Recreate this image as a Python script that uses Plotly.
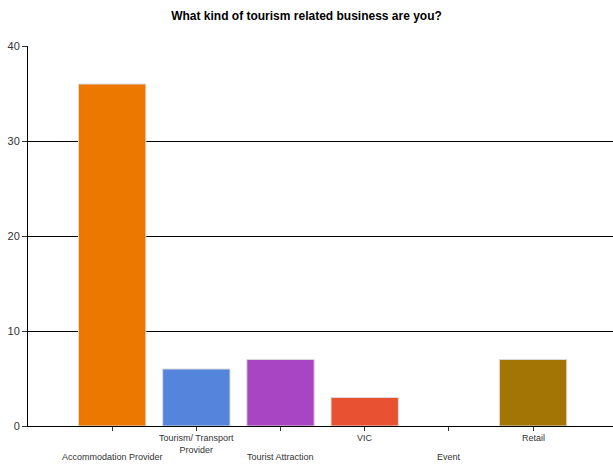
import plotly.graph_objects as go

categories = ["Accommodation Provider", "Tourism/ Transport Provider", "Tourist Attraction",
              "VIC", "Event", "Retail"]
tick_labels = ["Accommodation Provider", "Tourism/ Transport<br>Provider",
               "Tourist Attraction", "VIC", "Event", "Retail"]
label_rows = [2, 1, 2, 1, 2, 1]
values = [36, 6, 7, 3, 0, 7]
colors = ["#EC7800", "#5484DC", "#A745C2", "#E85232", "#888888", "#A27505"]

positions = list(range(len(categories)))
border_widths = [1 if v > 0 else 0 for v in values]

fig = go.Figure(go.Bar(
    x=positions, y=values, width=0.8,
    marker=dict(color=colors, line=dict(color="#DADADA", width=border_widths)),
    hovertext=categories,
))

for p, lab, row in zip(positions, tick_labels, label_rows):
    fig.add_annotation(
        x=p, xref="x", y=0, yref="paper", text=lab, showarrow=False,
        yanchor="top", yshift=-6 if row == 1 else -25, borderpad=0,
        font=dict(family="Arial, Liberation Sans", size=9, color="#333"),
    )

fig.update_layout(
    width=613, height=464,
    margin=dict(l=28, r=0, t=46, b=38),
    paper_bgcolor="white", plot_bgcolor="white",
    showlegend=False,
    title=dict(text="<b>What kind of tourism related business are you?</b>",
               x=0.5, xanchor="center", y=0.975, yanchor="top",
               font=dict(family="Arial, Liberation Sans", size=12, color="#000")),
    font=dict(family="Arial, Liberation Sans", color="#333"),
    bargap=0.2,
)
fig.update_xaxes(
    range=[-1.0, 5.95], tickmode="array", tickvals=positions, ticktext=[""] * len(positions),
    ticks="outside", ticklen=4, tickcolor="#333", tickangle=0,
    showline=True, linecolor="#000", linewidth=1, showgrid=False,
    zeroline=False, automargin=False,
)
fig.update_yaxes(
    range=[0, 40], dtick=10, ticks="outside", ticklen=5, tickcolor="#333",
    showline=True, linecolor="#000", linewidth=1,
    showgrid=True, gridcolor="#000", gridwidth=1, zeroline=False,
    tickfont=dict(size=11, color="#333"), automargin=False,
)

fig.write_html("out.html")
